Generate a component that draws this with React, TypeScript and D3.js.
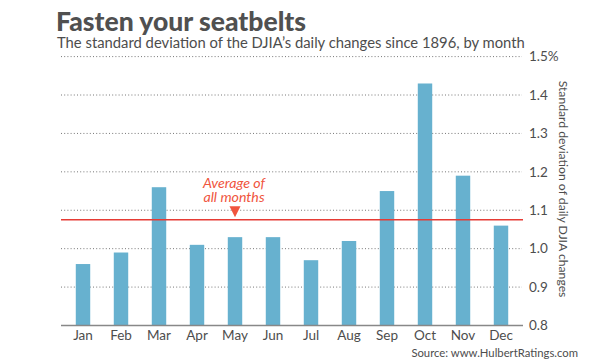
import React from 'react';
import * as d3 from 'd3';

const months = ['Jan', 'Feb', 'Mar', 'Apr', 'May', 'Jun', 'Jul', 'Aug', 'Sep', 'Oct', 'Nov', 'Dec'];
const stdDev = [0.96, 0.99, 1.16, 1.01, 1.03, 1.03, 0.97, 1.02, 1.15, 1.43, 1.19, 1.06];
const average = 1.075;
const yTicks = [0.8, 0.9, 1.0, 1.1, 1.2, 1.3, 1.4, 1.5];

const W = 600;
const H = 364;
const font = 'Lato, "Open Sans", sans-serif';

const App: React.FC = () => {
  const x = d3.scaleBand<string>().domain(months).range([64, 520]).paddingInner(0.62).paddingOuter(0.31);
  const y = d3.scaleLinear().domain([0.8, 1.5]).range([325.5, 56.6]);
  const avgX = x('May')! + x.bandwidth() / 2;
  const avgY = y(average);

  return (
    <svg width={W} height={H} style={{ position: 'absolute', left: 0, top: 0, background: '#fff' }}>
      <text x={56} y={30.5} fontFamily={font} fontWeight={900} fontSize={26.5} fill="#505050">
        Fasten your seatbelts
      </text>
      <text x={57} y={48} fontFamily={font} fontSize={14.8} fill="#4d4d4d">
        The standard deviation of the DJIA’s daily changes since 1896, by month
      </text>

      {/* grid + right tick labels */}
      {yTicks.map((t) => (
        <g key={t}>
          {t > 0.8 && (
            <line x1={61} x2={522} y1={y(t)} y2={y(t)} stroke="#777" strokeWidth={1} strokeDasharray="1,2.2" />
          )}
          <text x={529} y={y(t)} dy="0.35em" fontFamily={font} fontSize={13.5} fill="#4d4d4d">
            {d3.format('.1f')(t) + (t === 1.5 ? '%' : '')}
          </text>
        </g>
      ))}

      {stdDev.map((v, i) => (
        <rect
          key={months[i]}
          x={x(months[i])}
          y={y(v)}
          width={x.bandwidth()}
          height={y(0.8) - y(v)}
          fill="#67b1cf"
        />
      ))}

      {/* baseline */}
      <line x1={61} x2={523} y1={y(0.8)} y2={y(0.8)} stroke="#888" strokeWidth={1.5} />

      {months.map((m) => (
        <text
          key={m}
          x={x(m)! + x.bandwidth() / 2}
          y={340}
          textAnchor="middle"
          fontFamily={font}
          fontSize={13.5}
          fill="#4d4d4d"
        >
          {m}
        </text>
      ))}

      {/* average line */}
      <line x1={61} x2={523} y1={avgY} y2={avgY} stroke="#e63b35" strokeWidth={1.5} />
      <path
        d={`M${avgX - 5.5},${avgY - 13.5}L${avgX + 5.5},${avgY - 13.5}L${avgX},${avgY - 2.5}Z`}
        fill="#f0553e"
      />
      <text x={avgX - 1} y={188} textAnchor="middle" fontFamily={font} fontStyle="italic" fontSize={14.2} fill="#f0553e">
        Average of
      </text>
      <text x={avgX - 1} y={201.5} textAnchor="middle" fontFamily={font} fontStyle="italic" fontSize={14.2} fill="#f0553e">
        all months
      </text>

      <text
        transform={`translate(559,189) rotate(90)`}
        textAnchor="middle"
        fontFamily={font}
        fontSize={12.2}
        fill="#4d4d4d"
      >
        Standard deviation of daily DJIA changes
      </text>

      <text x={578} y={356.5} textAnchor="end" fontFamily={font} fontSize={11.3} fill="#4d4d4d">
        Source: www.HulbertRatings.com
      </text>
    </svg>
  );
};

export default App;
